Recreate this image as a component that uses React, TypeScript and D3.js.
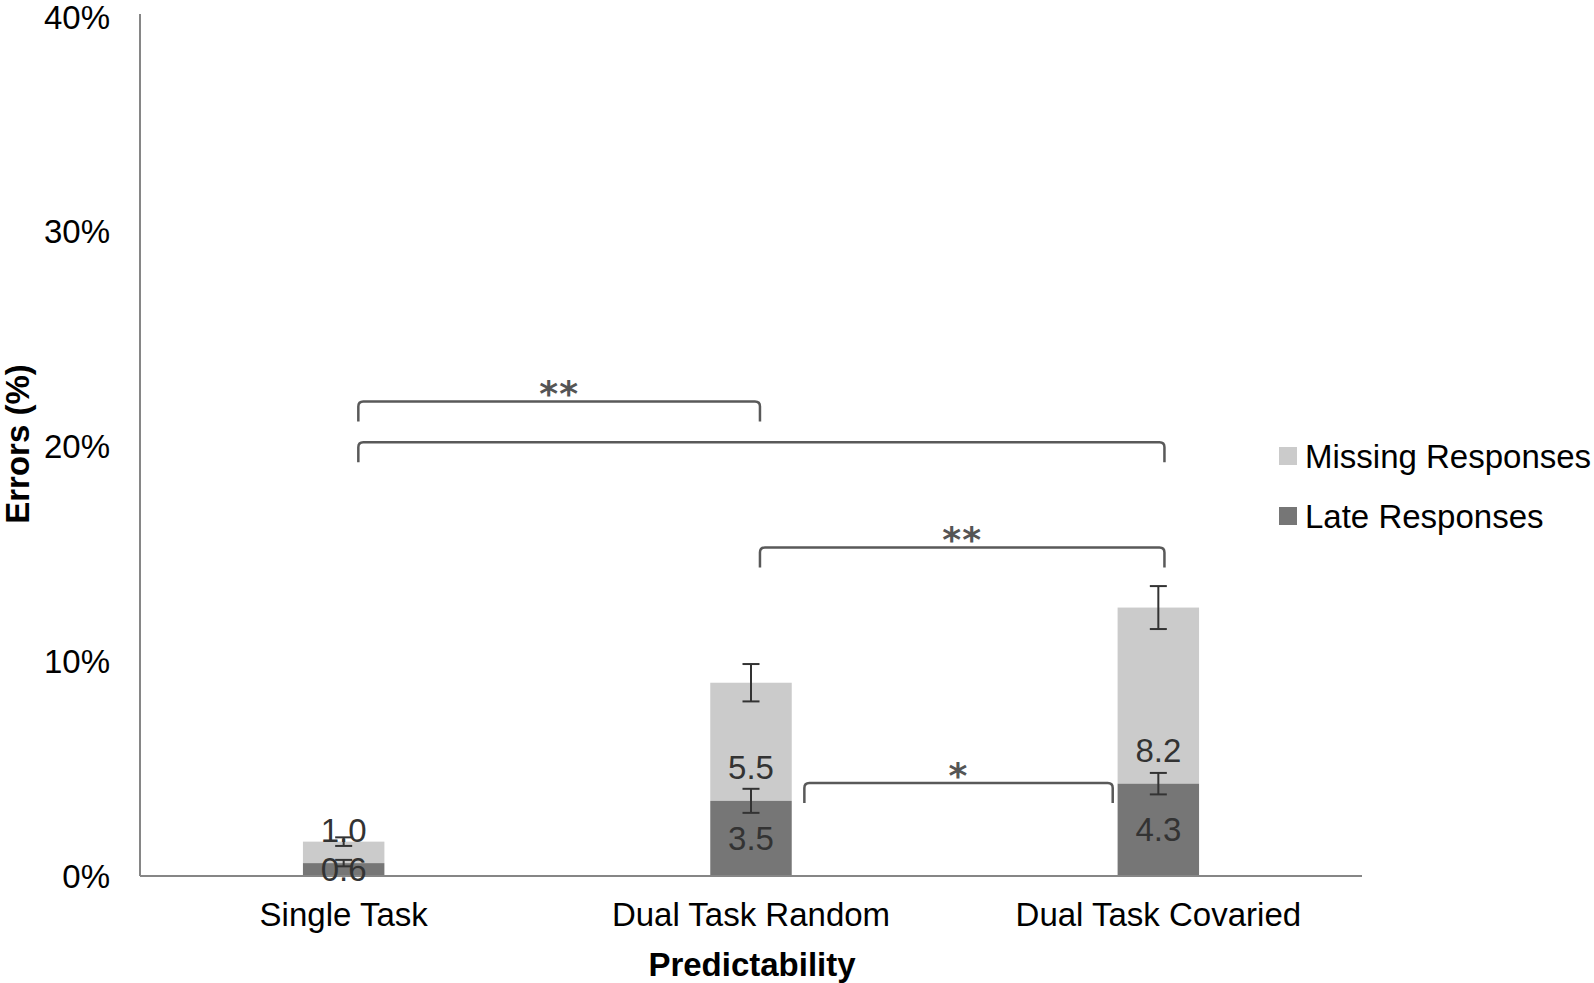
import React, { useRef, useEffect } from 'react';
import * as d3 from 'd3';

const categories = ['Single Task', 'Dual Task Random', 'Dual Task Covaried'];
const lateValues = [0.6, 3.5, 4.3];
const missingValues = [1.0, 5.5, 8.2];
const lateErrors = [0.15, 0.56, 0.5];
const missingErrors = [0.2, 0.87, 1.0];
const yTicks = [0, 10, 20, 30, 40];
const seriesNames = ['Missing Responses', 'Late Responses'];

// significance brackets: from/to in category index units, level in %
const brackets = [
  { from: 0.036, to: 1.022, level: 22.1, label: '**' },
  { from: 0.036, to: 2.015, level: 20.2, label: '' },
  { from: 1.022, to: 2.015, level: 15.3, label: '**' },
  { from: 1.131, to: 1.888, level: 4.33, label: '*' },
];

const App = () => {
  const svgRef = useRef<SVGSVGElement>(null);

  useEffect(() => {
    const W = 1594;
    const H = 983;
    const font = '"Liberation Sans", Arial, sans-serif';
    const fs = 33;
    const lightFill = '#cbcbcb';
    const darkFill = '#767676';

    const svg = d3.select(svgRef.current)
      .attr('width', W)
      .attr('height', H)
      .style('font-family', font);

    svg.selectAll('*').remove();

    const left = 140;
    const right = 1362;

    const x = d3.scaleBand()
      .domain(categories)
      .range([left, right])
      .paddingInner(0.8)
      .paddingOuter(0.4);

    const y = d3.scaleLinear()
      .domain([0, 40])
      .range([876, 17]);

    const xi = d3.scaleLinear()
      .domain([0, 1])
      .range([x(categories[0])! + x.bandwidth() / 2, x(categories[1])! + x.bandwidth() / 2]);

    // bars
    categories.forEach((c, i) => {
      const bx = x(c)!;
      const late = lateValues[i];
      const total = late + missingValues[i];
      svg.append('rect')
        .attr('x', bx).attr('width', x.bandwidth())
        .attr('y', y(total)).attr('height', y(late) - y(total))
        .attr('fill', lightFill);
      svg.append('rect')
        .attr('x', bx).attr('width', x.bandwidth())
        .attr('y', y(late)).attr('height', y(0) - y(late))
        .attr('fill', darkFill);
    });

    // axes
    svg.append('line')
      .attr('x1', left).attr('x2', left)
      .attr('y1', y(0)).attr('y2', y(40) - 3)
      .attr('stroke', '#868686').attr('stroke-width', 2);
    svg.append('line')
      .attr('x1', left).attr('x2', right)
      .attr('y1', y(0)).attr('y2', y(0))
      .attr('stroke', '#868686').attr('stroke-width', 2);

    svg.selectAll('.ytick')
      .data(yTicks)
      .enter()
      .append('text')
      .attr('x', 110)
      .attr('y', d => y(d))
      .attr('dy', '0.35em')
      .attr('text-anchor', 'end')
      .attr('font-size', fs)
      .attr('fill', '#000')
      .text(d => `${d}%`);

    svg.selectAll('.xtick')
      .data(categories)
      .enter()
      .append('text')
      .attr('x', d => x(d)! + x.bandwidth() / 2)
      .attr('y', 926)
      .attr('text-anchor', 'middle')
      .attr('font-size', fs)
      .attr('fill', '#000')
      .text(d => d);

    svg.append('text')
      .attr('x', 752).attr('y', 976)
      .attr('text-anchor', 'middle')
      .attr('font-size', fs).attr('font-weight', 'bold')
      .text('Predictability');

    svg.append('text')
      .attr('transform', 'translate(29,444) rotate(-90)')
      .attr('text-anchor', 'middle')
      .attr('font-size', fs).attr('font-weight', 'bold')
      .text('Errors (%)');

    // data labels
    categories.forEach((c, i) => {
      const cx = x(c)! + x.bandwidth() / 2;
      const late = lateValues[i];
      svg.append('text')
        .attr('x', cx).attr('y', y(late) - 33)
        .attr('dy', '0.35em')
        .attr('text-anchor', 'middle')
        .attr('font-size', fs).attr('fill', '#333')
        .text(missingValues[i].toFixed(1));
      svg.append('text')
        .attr('x', cx).attr('y', (y(late) + y(0)) / 2)
        .attr('dy', '0.35em')
        .attr('text-anchor', 'middle')
        .attr('font-size', fs).attr('fill', '#333')
        .text(late.toFixed(1));
    });

    // error bars
    const cap = 8.5;
    const errBar = (cx: number, v: number, e: number) => {
      const g = svg.append('g').attr('stroke', '#333').attr('stroke-width', 2);
      g.append('line').attr('x1', cx).attr('x2', cx).attr('y1', y(v - e)).attr('y2', y(v + e));
      g.append('line').attr('x1', cx - cap).attr('x2', cx + cap).attr('y1', y(v - e)).attr('y2', y(v - e));
      g.append('line').attr('x1', cx - cap).attr('x2', cx + cap).attr('y1', y(v + e)).attr('y2', y(v + e));
    };
    categories.forEach((c, i) => {
      const cx = x(c)! + x.bandwidth() / 2;
      errBar(cx, lateValues[i], lateErrors[i]);
      errBar(cx, lateValues[i] + missingValues[i], missingErrors[i]);
    });

    // significance brackets
    const leg = 20;
    const r = 5;
    brackets.forEach(b => {
      const x1 = xi(b.from);
      const x2 = xi(b.to);
      const yl = y(b.level);
      const path = d3.path();
      path.moveTo(x1, yl + leg);
      path.lineTo(x1, yl + r);
      path.quadraticCurveTo(x1, yl, x1 + r, yl);
      path.lineTo(x2 - r, yl);
      path.quadraticCurveTo(x2, yl, x2, yl + r);
      path.lineTo(x2, yl + leg);
      svg.append('path')
        .attr('d', path.toString())
        .attr('fill', 'none')
        .attr('stroke', '#595959')
        .attr('stroke-width', 2.5);
      if (b.label) {
        svg.append('text')
          .attr('x', (x1 + x2) / 2)
          .attr('y', yl + 5)
          .attr('text-anchor', 'middle')
          .attr('font-family', '"DejaVu Sans", sans-serif')
          .attr('font-size', 36)
          .attr('font-weight', 'bold')
          .attr('fill', '#555')
          .attr('letter-spacing', 1)
          .text(b.label);
      }
    });

    // legend
    const legend = svg.append('g').attr('transform', 'translate(1279,447)');
    [lightFill, darkFill].forEach((col, i) => {
      legend.append('rect')
        .attr('x', 0).attr('y', i * 60)
        .attr('width', 18).attr('height', 18)
        .attr('fill', col);
      legend.append('text')
        .attr('x', 26).attr('y', i * 60 + 9)
        .attr('dy', '0.35em')
        .attr('font-size', fs)
        .attr('fill', '#000')
        .text(seriesNames[i]);
    });
  }, []);

  return (
    <svg
      ref={svgRef}
      style={{ position: 'absolute', left: 0, top: 0, display: 'block', background: '#fff' }}
    ></svg>
  );
};

export default App;
